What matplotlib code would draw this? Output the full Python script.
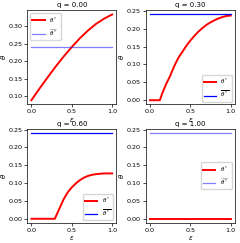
import matplotlib
matplotlib.use('Agg')
import matplotlib.pyplot as plt

q_values = [0.00, 0.30, 0.60, 1.00]
theta_bar = 0.24

eps_q0 = [0.0, 0.1, 0.2, 0.3, 0.4, 0.5, 0.6, 0.7, 0.8, 0.9, 1.0]
theta_q0 = [0.088, 0.121, 0.153, 0.184, 0.213, 0.240, 0.265, 0.287, 0.306, 0.321, 0.333]

eps_q3 = [0.0, 0.05, 0.10, 0.123, 0.15, 0.2, 0.25, 0.3, 0.35, 0.4, 0.45, 0.5,
          0.55, 0.6, 0.65, 0.7, 0.75, 0.8, 0.85, 0.9, 0.95, 1.0]
theta_q3 = [0.0, 0.0, 0.0, 0.0, 0.018, 0.045, 0.068, 0.095, 0.118, 0.135, 0.152, 0.167,
            0.180, 0.192, 0.202, 0.211, 0.218, 0.224, 0.229, 0.233, 0.236, 0.237]

eps_q6 = [0.0, 0.1, 0.2, 0.29, 0.35, 0.4, 0.45, 0.5, 0.55, 0.6, 0.65, 0.7,
          0.75, 0.8, 0.85, 0.9, 0.95, 1.0]
theta_q6 = [0.0, 0.0, 0.0, 0.0, 0.030, 0.055, 0.074, 0.088, 0.099, 0.108, 0.115, 0.120,
            0.123, 0.125, 0.126, 0.127, 0.127, 0.127]

eps_q10 = [0.0, 1.0]
theta_q10 = [0.0, 0.0]

curves = [(eps_q0, theta_q0), (eps_q3, theta_q3), (eps_q6, theta_q6), (eps_q10, theta_q10)]
# blue reference line: hat version (faded) in panels 1 & 4, bar version in 2 & 3
blue_labels = [r'$\widehat{\theta^*}$', r'$\overline{\theta^*}$',
               r'$\overline{\theta^*}$', r'$\widehat{\theta^*}$']
blue_alpha = [0.5, 1.0, 1.0, 0.5]
legend_loc = ['upper left', 'lower right', 'lower right', 'center right']

plt.rcParams['font.size'] = 5
fig = plt.figure(figsize=(2.40, 2.43), dpi=100)

lefts = [0.114, 0.608, 0.114, 0.608]
bottoms = [0.570, 0.570, 0.082, 0.082]

for i, q in enumerate(q_values):
    ax = fig.add_axes([lefts[i], bottoms[i], 0.37, 0.388])
    e, t = curves[i]
    ax.plot(e, t, color='red', lw=1.4, label=r'$\theta^*$')
    ax.plot([0.0, 1.0], [theta_bar, theta_bar], color='blue', lw=0.9,
            alpha=blue_alpha[i], label=blue_labels[i])
    ax.set_title('q = %.2f' % q, fontsize=5, pad=2)
    ax.set_xlabel(r'$\epsilon$', labelpad=1)
    ax.set_ylabel(r'$\theta$', labelpad=0.5)
    ax.tick_params(labelsize=4.6, length=2, width=0.5, pad=1.5)
    for s in ax.spines.values():
        s.set_linewidth(0.5)
    ax.set_xticks([0.0, 0.5, 1.0])
    ax.legend(loc=legend_loc[i], fontsize=4, handlelength=2.2, borderpad=0.4,
              labelspacing=0.5, framealpha=0.8)

fig.savefig('out.png', dpi=100)
